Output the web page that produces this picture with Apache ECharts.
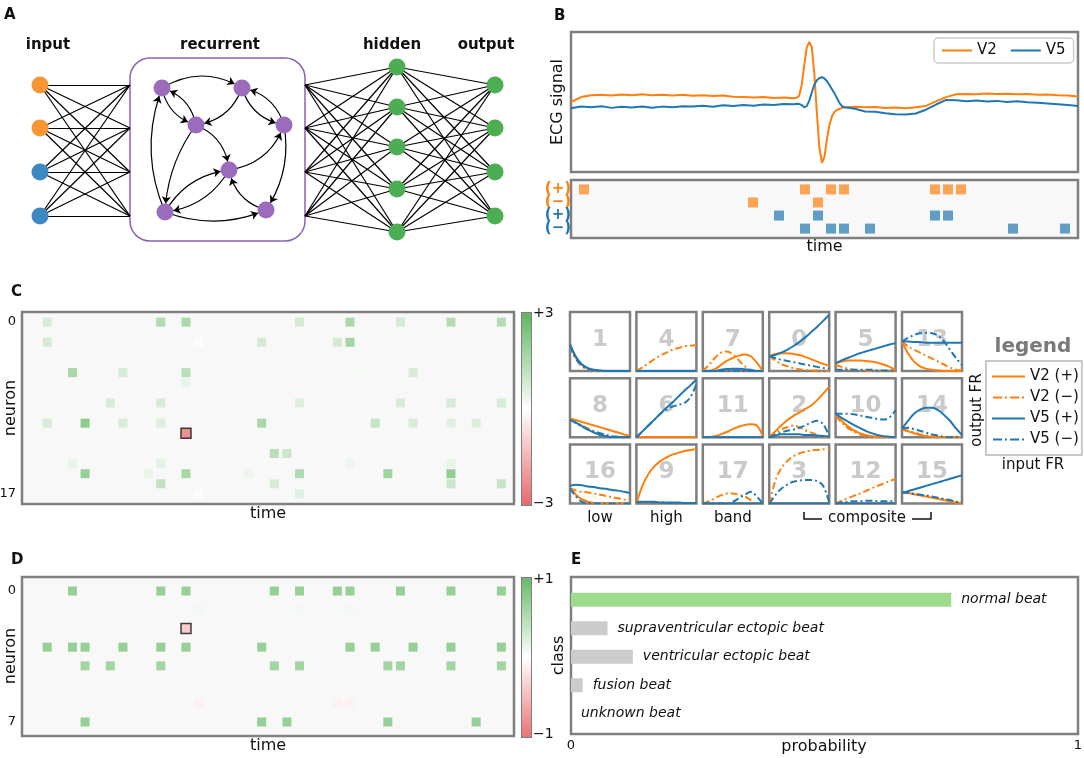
<!DOCTYPE html>
<html><head><meta charset="utf-8">
<script src="https://cdn.jsdelivr.net/npm/echarts@6/dist/echarts.min.js"></script>
<style>html,body{margin:0;padding:0;background:#fff}#c{width:1084px;height:758px}</style>
</head><body><div id="c"></div>
<script>
// ================= DATA =================
// Panel A: network diagram (diagram coordinates)
const layerLabels = ['input', 'recurrent', 'hidden', 'output'];
const inputY = [85, 128, 172, 216];
const inputKind = ['V2', 'V2', 'V5', 'V5'];
const hiddenY = [67, 107, 147, 189, 232];
const outputY = [85, 128, 172, 216];
const layerX = { input: 40, boxLeft: 130, boxRight: 305, hidden: 397, output: 495 };
const boxTopBottom = [58, 241];
const recX = [162, 242, 196, 284, 229, 165, 266];
const recY = [88, 88, 125, 125, 170, 212, 210];
// [from, to, curveness]
const recEdges = [[0,1,0.3],[2,0,-0.3],[0,2,-0.3],[1,2,0.3],[3,1,-0.3],[1,3,-0.3],[2,4,0.3],[2,5,-0.15],[5,0,0.2],[5,4,0.25],[4,5,0.25],[4,3,-0.3],[3,6,0.2],[6,4,0.3],[5,6,-0.2]];

// Panel B: ECG
const ecgT = [0,2,4,6,8,10,12,14,16,18,20,22,24,26,28,30,32,34,36,38,40,42,44,
  44.5,45,45.5,46,46.5,47,47.5,48,48.5,49,49.5,50,50.5,51,51.5,52,52.5,53,53.5,54,
  56,58,60,62,64,66,68,70,72,74,76,78,80,82,84,86,88,90,92,94,96,98,100];
const ecgV2 = [0.50,0.535,0.548,0.552,0.546,0.553,0.549,0.555,0.548,0.552,0.547,0.551,0.544,0.548,0.542,0.546,0.538,0.536,0.533,0.535,0.528,0.532,0.527,
  0.530,0.545,0.62,0.76,0.89,0.93,0.89,0.70,0.42,0.17,0.065,0.11,0.24,0.34,0.40,0.43,0.445,0.452,0.458,0.462,
  0.466,0.462,0.465,0.458,0.461,0.456,0.462,0.472,0.505,0.535,0.555,0.558,0.556,0.560,0.557,0.559,0.555,0.557,0.552,0.554,0.548,0.546,0.540];
const ecgV5 = [0.455,0.468,0.462,0.470,0.458,0.466,0.460,0.468,0.459,0.467,0.462,0.470,0.468,0.474,0.466,0.476,0.472,0.478,0.474,0.482,0.478,0.486,0.484,
  0.488,0.486,0.478,0.462,0.470,0.51,0.57,0.625,0.655,0.672,0.677,0.668,0.648,0.620,0.590,0.560,0.525,0.490,0.468,0.462,
  0.452,0.432,0.430,0.420,0.412,0.410,0.418,0.445,0.482,0.515,0.512,0.506,0.510,0.504,0.508,0.500,0.505,0.498,0.494,0.490,0.484,0.478,0.472];
const rasterLabels = ['(+)', '(\u2212)', '(+)', '(\u2212)'];
const v2PosBins = [0,17,19,20,27,28,29];
const v2NegBins = [13,18];
const v5PosBins = [15,18,27,28];
const v5NegBins = [17,19,20,22,33,37];

// Panel C: recurrent activity heat map
const cCols = [0,5,9,11,20,24,28,32,36, 0,12,17,23,24, 2,6,11,25,29, 11, 5,9,20,28,32,36, 0,3,6,9,17,26,29,32,34, 11,12, 18,19, 2,9,24,32, 3,8,11,16,20,27,32, 9,18,32,36, 12,20];
const cRows = [0,0,0,0,0,0,0,0,0, 2,2,2,2,2, 5,5,5,5,5, 6, 8,8,8,8,8,8, 10,10,10,10,10,10,10,10,10, 11,11, 13,13, 14,14,14,14, 15,15,15,15,15,15,15, 16,16,16,16, 17,17];
const cVals = [0.9,0.2,1.8,1.9,1.0,1.9,1.0,1.7,1.7, 1.0,0.05,1.0,1.0,2.1, 2.0,0.9,1.6,0.2,0.9, 0.5, 0.9,0.9,0.8,0.9,0.9,0.9, 0.9,2.6,0.9,0.8,2.0,1.3,0.9,0.7,0.8, -2.7,0.15, 1.6,1.2, 0.5,0.6,0.4,0.5, 2.4,0.5,2.0,0.4,1.8,2.2,2.5, 1.4,0.9,1.2,1.3, 0.05,0.7];
const cMarked = [11, 11];
const cTickLabels = [0, 17];

// Panel C: response curves of the recurrent neurons
const tileIds = [1,4,7,0,5,13, 8,6,11,2,10,14, 16,9,17,3,12,15];
const tileXs = [0,0.1,0.2,0.3,0.4,0.5,0.6,0.7,0.8,0.9,1];
const curveNames = ['V2 (+)', 'V2 (\u2212)', 'V5 (+)', 'V5 (\u2212)'];
const tileV2pos = [
 [0.45,0.22,0.1,0.04,0.015,0.005,0,0,0,0,0],
 [0,0,0,0,0,0,0,0,0,0,0],
 [0,0,0.03,0.1,0.17,0.22,0.26,0.28,0.25,0.14,0],
 [0.25,0.29,0.3,0.3,0.29,0.27,0.24,0.2,0.16,0.12,0.09],
 [0.13,0.16,0.18,0.18,0.18,0.17,0.16,0.14,0.11,0.07,0.02],
 [0.5,0.3,0.16,0.08,0.04,0.02,0.01,0,0,0,0],
 [0.32,0.29,0.26,0.23,0.2,0.17,0.14,0.11,0.08,0.05,0.02],
 [0,0,0,0,0,0,0,0,0,0,0],
 [0,0.005,0.02,0.05,0.09,0.14,0.18,0.21,0.22,0.2,0.02],
 [0,0.1,0.2,0.29,0.36,0.42,0.48,0.54,0.63,0.74,0.86],
 [0.38,0.28,0.19,0.12,0.07,0.04,0.02,0.01,0,0,0],
 [0.14,0.1,0.07,0.04,0.02,0.01,0,0,0,0,0],
 [0.26,0.15,0.07,0.03,0.01,0,0,0,0,0,0],
 [0,0.3,0.5,0.63,0.72,0.78,0.83,0.86,0.89,0.91,0.92],
 [0,0,0,0,0,0,0,0,0,0,0],
 [0,0,0,0,0,0,0,0,0,0,0],
 [0,0,0,0,0,0,0,0,0,0,0],
 [0.19,0.18,0.16,0.14,0.12,0.1,0.08,0.06,0.04,0.02,0.01]];
const tileV2neg = [
 [0.42,0.2,0.08,0.03,0.01,0,0,0,0,0,0],
 [0,0.06,0.13,0.2,0.26,0.31,0.36,0.39,0.42,0.43,0.44],
 [0,0.1,0.22,0.31,0.33,0.28,0.18,0.08,0.01,0,0],
 [0.25,0.18,0.12,0.08,0.05,0.03,0.02,0.01,0.01,0,0],
 [0.1,0.07,0.04,0.02,0.01,0,0,0,0,0,0],
 [0.5,0.42,0.36,0.31,0.26,0.21,0.16,0.11,0.06,0.02,0],
 [0.3,0.25,0.2,0.15,0.1,0.06,0.03,0.01,0,0,0],
 [0,0,0,0,0,0,0,0,0,0,0],
 [0,0,0,0,0,0,0,0,0,0,0],
 [0,0.07,0.13,0.17,0.2,0.17,0.12,0.08,0.04,0.01,0],
 [0.36,0.25,0.16,0.1,0.05,0.02,0.01,0,0,0,0],
 [0.14,0.11,0.08,0.05,0.03,0.02,0.01,0,0,0,0],
 [0.26,0.22,0.2,0.19,0.17,0.15,0.13,0.11,0.09,0.07,0.06],
 [0,0,0,0,0,0,0,0,0,0,0],
 [0,0.04,0.09,0.14,0.17,0.17,0.15,0.12,0.06,0,0],
 [0,0.38,0.6,0.72,0.8,0.85,0.88,0.9,0.91,0.92,0.92],
 [0,0.05,0.09,0.13,0.17,0.21,0.26,0.3,0.34,0.38,0.42],
 [0.2,0.19,0.17,0.15,0.13,0.11,0.09,0.07,0.05,0.03,0.02]];
const tileV5pos = [
 [0.45,0.24,0.11,0.05,0.02,0.01,0,0,0,0,0],
 [0,0,0,0,0,0,0,0,0,0,0],
 [0,0,0,0.02,0.035,0.04,0.04,0.03,0.02,0,0],
 [0.25,0.27,0.31,0.36,0.42,0.49,0.57,0.66,0.75,0.85,0.95],
 [0.13,0.18,0.22,0.26,0.3,0.33,0.36,0.39,0.42,0.45,0.47],
 [0.5,0.5,0.49,0.49,0.48,0.48,0.48,0.48,0.48,0.48,0.48],
 [0.3,0.25,0.19,0.13,0.08,0.04,0.02,0,0,0,0],
 [0,0.1,0.2,0.3,0.4,0.5,0.59,0.69,0.79,0.88,0.98],
 [0,0,0,0,0,0,0,0,0,0,0],
 [0,0.03,0.05,0.05,0.05,0.05,0.04,0.04,0.03,0.02,0.01],
 [0.4,0.33,0.27,0.21,0.16,0.11,0.07,0.04,0.02,0.01,0],
 [0.15,0.28,0.4,0.47,0.5,0.5,0.46,0.38,0.28,0.15,0.04],
 [0.3,0.32,0.31,0.29,0.28,0.26,0.25,0.23,0.22,0.2,0.18],
 [0.03,0.03,0.03,0.03,0.02,0.02,0.02,0.02,0.01,0.01,0.01],
 [0,0,0,0,0,0,0,0,0,0,0],
 [0,0,0,0,0,0,0,0,0,0,0],
 [0,0,0,0,0,0,0,0,0,0,0],
 [0.18,0.21,0.24,0.27,0.3,0.33,0.36,0.39,0.42,0.45,0.48]];
const tileV5neg = [
 [0.43,0.21,0.09,0.035,0.012,0,0,0,0,0,0],
 [0,0,0,0,0,0,0,0,0,0,0],
 [0,0,0,0,0.01,0.01,0.01,0,0,0,0],
 [0.25,0.22,0.19,0.17,0.15,0.13,0.11,0.09,0.07,0.05,0.03],
 [0.02,0.02,0.02,0.02,0.02,0.02,0.02,0.01,0.01,0.01,0.01],
 [0.5,0.56,0.61,0.64,0.65,0.64,0.6,0.5,0.36,0.22,0.1],
 [0.3,0.24,0.18,0.13,0.1,0.07,0.04,0.02,0.01,0,0],
 [0,0.1,0.2,0.3,0.4,0.47,0.52,0.55,0.58,0.68,0.9],
 [0,0,0,0,0,0,0,0,0,0,0],
 [0,0.04,0.08,0.11,0.13,0.16,0.2,0.25,0.28,0.22,0.02],
 [0.4,0.4,0.4,0.39,0.37,0.35,0.33,0.31,0.3,0.34,0.46],
 [0.15,0.16,0.14,0.11,0.08,0.05,0.03,0.01,0,0,0],
 [0.26,0.12,0.03,0.01,0,0,0,0,0,0,0],
 [0.02,0.02,0.02,0.02,0.02,0.01,0.01,0.01,0.01,0.01,0.01],
 [0,0,0,0,0,0.03,0.09,0.15,0.2,0.12,0],
 [0,0.14,0.25,0.32,0.37,0.39,0.4,0.4,0.38,0.3,0.02],
 [0,0.02,0.03,0.04,0.04,0.05,0.05,0.04,0.04,0.04,0.03],
 [0.19,0.18,0.16,0.15,0.14,0.12,0.1,0.08,0.06,0.03,0.02]];
const filterTypes = ['low', 'high', 'band'];
const compositeLabel = 'composite';

// Panel D: hidden layer activity
const dCols = [2,9,11,18,20,23,24,28,32,36, 12,20,24, 11, 0,2,3,6,9,11,17,24,26,29,32,36, 3,5,9,18,20,27,28,32,36, 12,23,24, 3,17,19,27,34];
const dRows = [0,0,0,0,0,0,0,0,0,0, 1,1,1, 2, 3,3,3,3,3,3,3,3,3,3,3,3, 4,4,4,4,4,4,4,4,4, 6,6,6, 7,7,7,7,7];
const dVals = [0.85,0.85,0.85,0.85,0.85,0.85,0.85,0.85,0.85,0.85, 0.1,0.1,0.1, -0.45, 0.85,0.85,0.85,0.85,0.85,0.85,0.85,0.85,0.85,0.85,0.85,0.85, 0.75,0.75,0.75,0.75,0.75,0.75,0.75,0.75,0.75, -0.12,-0.12,-0.12, 0.85,0.85,0.85,0.85,0.85];
const dMarked = [11, 2];
const dTickLabels = [0, 7];

// Panel E: class probabilities
const classes = ['normal beat', 'supraventricular ectopic beat', 'ventricular ectopic beat', 'fusion beat', 'unknown beat'];
const probs = [0.75, 0.072, 0.122, 0.023, 0];

// ================= CHART =================
const FONT = 'DejaVu Sans';
const INK = '#111';
const FRAME = '#7f7f7f';
const ORANGE = '#ff7f0e', BLUE = '#1f77b4';
const chart = echarts.init(document.getElementById('c'), null, { renderer: 'canvas' });

const grids = [], xAxes = [], yAxes = [], series = [], graphics = [];
function addGrid(g, xa, ya) {
  grids.push(Object.assign({ outerBoundsMode: 'none', containLabel: false }, g)); const i = grids.length - 1;
  xAxes.push(Object.assign({ gridIndex: i }, xa));
  yAxes.push(Object.assign({ gridIndex: i }, ya));
  return i;
}
const bare = { axisLine: { show: false }, axisTick: { show: false }, axisLabel: { show: false }, splitLine: { show: false } };
const nameStyle = { fontSize: 16, fontFamily: FONT, color: INK };
function txt(text, x, y, o, extra) {
  graphics.push(Object.assign({ type: 'text', x: x, y: y, z: 10, silent: true,
    style: Object.assign({ text: text, fontFamily: FONT, fontSize: 15, fill: INK, align: 'center', verticalAlign: 'middle' }, o || {}) }, extra || {}));
}

// ---- Panel A ----
const gA = addGrid({ left: 0, top: 0, width: 540, height: 260 },
  { type: 'value', min: 0, max: 540, show: false }, { type: 'value', min: 0, max: 260, inverse: true, show: false });
const nodeColor = { V2: '#f99532', V5: '#3b88c3', rec: '#9b6cbc', green: '#4cae52' };
const nodes = [], links = [];
const NS = 17;
inputY.forEach((y, i) => nodes.push({ name: 'in' + i, value: [layerX.input, y], symbolSize: NS, itemStyle: { color: nodeColor[inputKind[i]] } }));
inputY.forEach((y, i) => nodes.push({ name: 'bl' + i, value: [layerX.boxLeft, y], symbolSize: 0 }));
inputY.forEach((y, i) => nodes.push({ name: 'br' + i, value: [layerX.boxRight, y], symbolSize: 0 }));
hiddenY.forEach((y, i) => nodes.push({ name: 'h' + i, value: [layerX.hidden, y], symbolSize: NS, itemStyle: { color: nodeColor.green } }));
outputY.forEach((y, i) => nodes.push({ name: 'o' + i, value: [layerX.output, y], symbolSize: NS, itemStyle: { color: nodeColor.green } }));
recX.forEach((x, i) => nodes.push({ name: 'r' + i, value: [x, recY[i]], symbolSize: NS, itemStyle: { color: nodeColor.rec } }));
inputY.forEach((a, i) => inputY.forEach((b, j) => links.push({ source: 'in' + i, target: 'bl' + j })));
inputY.forEach((a, i) => hiddenY.forEach((b, j) => links.push({ source: 'br' + i, target: 'h' + j })));
hiddenY.forEach((a, i) => outputY.forEach((b, j) => links.push({ source: 'h' + i, target: 'o' + j })));
recEdges.forEach(e => links.push({ source: 'r' + e[0], target: 'r' + e[1], symbol: ['none', 'arrow'], symbolSize: [0, 7], lineStyle: { curveness: e[2] } }));
series.push({ type: 'graph', coordinateSystem: 'cartesian2d', xAxisIndex: gA, yAxisIndex: gA, layout: 'none',
  data: nodes, links: links, edgeSymbol: ['none', 'none'], edgeSymbolSize: 7, silent: true, z: 3,
  lineStyle: { color: '#000', width: 1.2, opacity: 1 }, itemStyle: { borderWidth: 0 }, label: { show: false }, emphasis: { disabled: true } });

// ---- Panel B: ECG ----
const gB = addGrid({ left: 571, top: 32, width: 507, height: 140, show: true, borderColor: FRAME, borderWidth: 2.5, backgroundColor: '#fff' },
  Object.assign({ type: 'value', min: 0, max: 100 }, bare),
  Object.assign({ type: 'value', min: 0, max: 1, name: 'ECG signal', nameLocation: 'middle', nameGap: 5, nameTextStyle: nameStyle }, bare));
series.push({ type: 'line', name: 'V2', xAxisIndex: gB, yAxisIndex: gB, data: ecgT.map((t, i) => [t, ecgV2[i]]), showSymbol: false, symbol: 'none', lineStyle: { color: ORANGE, width: 2 }, itemStyle: { color: ORANGE }, z: 3 });
series.push({ type: 'line', name: 'V5', xAxisIndex: gB, yAxisIndex: gB, data: ecgT.map((t, i) => [t, ecgV5[i]]), showSymbol: false, symbol: 'none', lineStyle: { color: BLUE, width: 2 }, itemStyle: { color: BLUE }, z: 4 });

// ---- Panel B: raster ----
const rasterColors = [ORANGE, ORANGE, BLUE, BLUE];
const gR = addGrid({ left: 571, top: 180, width: 507, height: 58, show: true, borderColor: FRAME, borderWidth: 2.5, backgroundColor: '#f8f8f8' },
  Object.assign({ type: 'value', min: -1, max: 38, name: 'time', nameLocation: 'middle', nameGap: 1, nameTextStyle: nameStyle }, bare),
  Object.assign({ type: 'value', min: -0.72, max: 3.72, inverse: true }, bare));
[v2PosBins, v2NegBins, v5PosBins, v5NegBins].forEach((bins, r) => {
  series.push({ type: 'scatter', xAxisIndex: gR, yAxisIndex: gR, symbol: 'rect', symbolSize: 10, silent: true,
    data: bins.map(b => [b, r]), itemStyle: { color: rasterColors[r], opacity: 0.7 } });
});

// ---- Panel C heat map ----
const heatAxisY = (min, max, ticks) => ({ type: 'value', min: min, max: max, inverse: true,
  axisLine: { show: false }, axisTick: { show: false }, splitLine: { show: false },
  axisLabel: { show: true, customValues: ticks, margin: 6, fontFamily: FONT, fontSize: 13, color: INK } });
const gC = addGrid({ left: 22, top: 312, width: 492, height: 192, show: true, borderColor: FRAME, borderWidth: 2.5, backgroundColor: '#f8f8f8' },
  Object.assign({ type: 'value', min: -2, max: 37, name: 'time', nameLocation: 'middle', nameGap: 2, nameTextStyle: nameStyle }, bare),
  heatAxisY(-1, 18, cTickLabels));
const sC = series.length;
series.push({ type: 'scatter', xAxisIndex: gC, yAxisIndex: gC, symbol: 'rect', symbolSize: 9, silent: true, z: 3,
  data: cCols.map((c, i) => {
    const it = { value: [c, cRows[i], cVals[i]] };
    if (c === cMarked[0] && cRows[i] === cMarked[1]) { it.symbolSize = 10; it.itemStyle = { borderColor: '#111', borderWidth: 1.5 }; }
    return it;
  }) });

// ---- Panel C tiles ----
const DASHDOT = [7, 3, 2, 3];
const tileStyles = [
  { color: ORANGE, type: 'solid' }, { color: ORANGE, type: DASHDOT },
  { color: BLUE, type: 'solid' }, { color: BLUE, type: DASHDOT }];
const tileSets = [tileV2pos, tileV2neg, tileV5pos, tileV5neg];
const tileLeft0 = 570, tileTop0 = 312, tileStepX = 66.4, tileStepY = 66.3, tileW = 60, tileH = 59;
tileIds.forEach((id, t) => {
  const r = Math.floor(t / 6), c = t % 6;
  const L = tileLeft0 + c * tileStepX, T = tileTop0 + r * tileStepY;
  const g = addGrid({ left: L, top: T, width: tileW, height: tileH, show: true, borderColor: FRAME, borderWidth: 2.5, backgroundColor: 'transparent' },
    { type: 'value', min: 0, max: 1, show: false }, { type: 'value', min: 0, max: 1, show: false });
  tileSets.forEach((set, k) => {
    series.push({ type: 'line', name: curveNames[k], xAxisIndex: g, yAxisIndex: g, data: tileXs.map((x, i) => [x, set[t][i]]),
      smooth: 0.35, showSymbol: false, symbol: 'none', silent: true, z: 4,
      lineStyle: { color: tileStyles[k].color, type: tileStyles[k].type, width: 2 }, itemStyle: { color: tileStyles[k].color } });
  });
  graphics.push({ type: 'text', x: L + tileW / 2, y: T + tileH * 0.47, z: 1, silent: true,
    style: { text: String(id), fontFamily: FONT, fontSize: 23, fontWeight: 'bold', fill: '#cacaca', align: 'center', verticalAlign: 'middle' } });
  if (r === 2 && c < 3) txt(filterTypes[c], L + tileW / 2, 518);
});

// ---- Panel D heat map ----
const gD = addGrid({ left: 22, top: 577, width: 492, height: 159, show: true, borderColor: FRAME, borderWidth: 2.5, backgroundColor: '#f8f8f8' },
  Object.assign({ type: 'value', min: -2, max: 37, name: 'time', nameLocation: 'middle', nameGap: 2, nameTextStyle: nameStyle }, bare),
  heatAxisY(-0.75, 7.75, dTickLabels));
const sD = series.length;
series.push({ type: 'scatter', xAxisIndex: gD, yAxisIndex: gD, symbol: 'rect', symbolSize: 9, silent: true, z: 3,
  data: dCols.map((c, i) => {
    const it = { value: [c, dRows[i], dVals[i]] };
    if (c === dMarked[0] && dRows[i] === dMarked[1]) { it.symbolSize = 10; it.itemStyle = { borderColor: '#111', borderWidth: 1.5 }; }
    return it;
  }) });

// ---- Panel E ----
const gEf = addGrid({ left: 571, top: 577, width: 507, height: 157, show: true, borderColor: FRAME, borderWidth: 2.5, backgroundColor: '#fff' },
  { type: 'value', min: 0, max: 1,
    axisLine: { show: false }, axisTick: { show: false }, splitLine: { show: false },
    axisLabel: { show: true, customValues: [0, 1], margin: 5, fontFamily: FONT, fontSize: 13, color: INK } },
  Object.assign({ type: 'value', min: 0, max: 1, name: 'class', nameLocation: 'middle', nameGap: 4, nameTextStyle: nameStyle }, bare));
const gEi = addGrid({ left: 571, top: 585.5, width: 507, height: 142.5 },
  { type: 'value', min: 0, max: 1, show: false },
  { type: 'category', data: classes, inverse: true, show: false });
const best = probs.indexOf(Math.max.apply(null, probs));
series.push({ type: 'bar', xAxisIndex: gEi, yAxisIndex: gEi, barWidth: 14, silent: true, z: 3,
  data: probs.map((p, i) => ({ value: p, itemStyle: { color: i === best ? '#9fdb8f' : '#cccccc' } })),
  label: { show: true, position: 'right', distance: 10, formatter: '{b}', fontFamily: FONT, fontSize: 14, fontStyle: 'italic', color: INK } });

// ---- text decorations ----
txt(layerLabels[0], 48, 45, { fontWeight: 'bold' });
txt(layerLabels[1], 220, 45, { fontWeight: 'bold' });
txt(layerLabels[2], 392, 45, { fontWeight: 'bold' });
txt(layerLabels[3], 486, 45, { fontWeight: 'bold' });
[['A', 4, 8], ['B', 554, 9], ['C', 11, 285], ['D', 11, 553], ['E', 571, 553]].forEach(p =>
  txt(p[0], p[1], p[2], { fontWeight: 'bold', fontSize: 15, align: 'left', verticalAlign: 'top' }));
txt('+3', 533, 313, { fontSize: 14, align: 'left' });
txt('\u22123', 533, 503, { fontSize: 14, align: 'left' });
txt('+1', 533, 579, { fontSize: 14, align: 'left' });
txt('\u22121', 533, 734, { fontSize: 14, align: 'left' });
txt(compositeLabel, 867, 518);
graphics.push({ type: 'polyline', z: 10, shape: { points: [[804, 512], [804, 519], [822, 519]] }, style: { stroke: INK, lineWidth: 1.5, fill: null } });
graphics.push({ type: 'polyline', z: 10, shape: { points: [[912, 519], [931, 519], [931, 512]] }, style: { stroke: INK, lineWidth: 1.5, fill: null } });
txt('legend', 1033, 347, { fontWeight: 'bold', fontSize: 20, fill: '#7a7a7a' });
txt('output FR', 977, 410, {}, { rotation: Math.PI / 2 });
txt('input FR', 1033, 465);
txt('neuron', 11, 408, { fontSize: 16 }, { rotation: Math.PI / 2 });
txt('neuron', 11, 656, { fontSize: 16 }, { rotation: Math.PI / 2 });
txt('probability', 824, 747, { fontSize: 16 });

// legend icons drawn as line samples
const solidIcon = 'path://M0,0h33v2h-33z';
const dashDotIcon = 'path://M0,0h9v2h-9zM12,0h2v2h-2zM17,0h9v2h-9zM29,0h2v2h-2z';
const ecgIcon = 'path://M0,0h30v2h-30z';

const option = {
  animation: false,
  backgroundColor: '#fff',
  textStyle: { fontFamily: FONT },
  grid: grids, xAxis: xAxes, yAxis: yAxes, series: series,
  visualMap: [
    { type: 'continuous', seriesIndex: sC, dimension: 2, min: -3, max: 3, left: 521, top: 312, itemWidth: 9, itemHeight: 192,
      calculable: false, hoverLink: false, text: null, padding: 0, borderColor: FRAME, borderWidth: 2,
      inRange: { color: ['#e8686b', '#ffffff', '#5db65d'] } },
    { type: 'continuous', seriesIndex: sD, dimension: 2, min: -1, max: 1, left: 521, top: 577, itemWidth: 9, itemHeight: 159,
      calculable: false, hoverLink: false, text: null, padding: 0, borderColor: FRAME, borderWidth: 2,
      inRange: { color: ['#ec7374', '#ffffff', '#66bb66'] } }
  ],
  legend: [
    { data: [{ name: 'V2', icon: ecgIcon }, { name: 'V5', icon: ecgIcon }], left: 934, top: 38, orient: 'horizontal', itemWidth: 30, itemHeight: 2, itemGap: 14, selectedMode: false,
      padding: [5, 8, 5, 8], borderColor: '#cccccc', borderWidth: 1.5, borderRadius: 4, backgroundColor: '#fff',
      textStyle: { fontFamily: FONT, fontSize: 15, color: INK } },
    { data: curveNames.map((n, k) => ({ name: n, icon: k % 2 ? dashDotIcon : solidIcon })), left: 986, top: 361, orient: 'vertical', itemWidth: 33, itemHeight: 2, itemGap: 6, selectedMode: false,
      padding: [8, 3, 8, 6], borderColor: '#c8c8c8', borderWidth: 2, backgroundColor: '#fff',
      textStyle: { fontFamily: FONT, fontSize: 15, color: INK } }
  ]
};
chart.setOption(option);

// recurrent box and raster row labels placed through the chart scales
const pTL = chart.convertToPixel({ gridIndex: gA }, [layerX.boxLeft, boxTopBottom[0]]);
const pBR = chart.convertToPixel({ gridIndex: gA }, [layerX.boxRight, boxTopBottom[1]]);
graphics.push({ type: 'rect', z: 0, silent: true, shape: { x: pTL[0], y: pTL[1], width: pBR[0] - pTL[0], height: pBR[1] - pTL[1], r: 20 },
  style: { fill: null, stroke: '#8d62b3', lineWidth: 1.5 } });
rasterLabels.forEach((lab, r) => {
  const p = chart.convertToPixel({ gridIndex: gR }, [-1, r]);
  txt(lab, p[0] - 13, p[1], { fontSize: 15, fontWeight: 'bold', fill: rasterColors[r] });
});
chart.setOption({ graphic: graphics });
</script></body></html>
